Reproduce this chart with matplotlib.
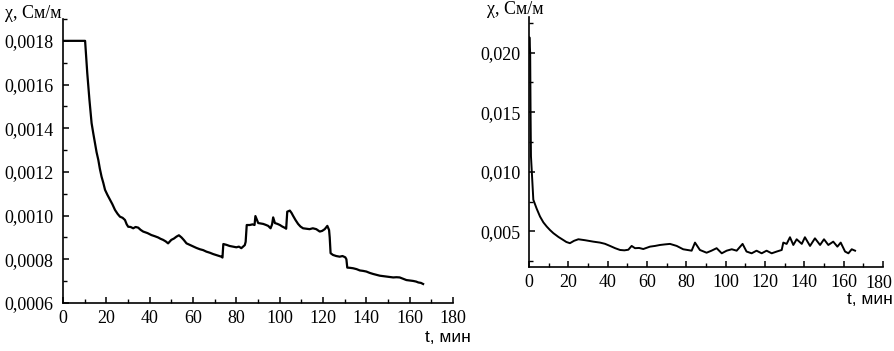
import matplotlib
matplotlib.use("Agg")
import matplotlib.pyplot as plt
from matplotlib.ticker import FuncFormatter, MultipleLocator

# ---- data: left panel ----
t_left = [0, 5, 10.2, 11.2, 12.2, 13.2, 14.0, 14.8, 15.5, 16.3, 17.0, 17.8, 18.6, 19.4,
          20.5, 21.7, 22.8, 24.0, 25.2, 26.3, 27.5, 28.6, 29.4, 30.1, 31.2, 32.4, 33.5,
          34.7, 35.8, 37.0, 39.0, 40.8, 42.3, 43.9, 45.0, 46.2, 47.4, 48.5, 50.0, 51.2,
          52.4, 53.5, 54.7, 55.8, 57.0, 58.5, 60.1, 61.6, 63.2, 64.7, 66.2, 67.8, 69.3,
          71.2, 73.1, 73.6, 74.0, 75.5, 76.9, 78.4, 80.0, 81.2, 82.3, 83.9, 84.3, 84.8,
          86.2, 87.5, 88.4, 88.8, 90.1, 91.2, 92.4, 93.5, 94.7, 95.8, 96.5, 97.0, 97.8,
          99.0, 100.1, 101.2, 102.4, 103.0, 103.5, 104.7, 105.5, 106.2, 107.3, 108.5,
          109.6, 110.8, 112.3, 113.8, 115.3, 116.9, 118.5, 119.6, 120.8, 122.0, 122.8,
          123.1, 123.5, 124.6, 126.1, 127.7, 129.0, 130.3, 130.8, 131.2, 132.5, 133.9,
          135.5, 137.0, 138.5, 140.0, 141.5, 143.1, 144.6, 146.2, 147.7, 149.3, 150.8,
          152.4, 153.9, 155.4, 157.0, 158.5, 160.0, 161.6, 163.0, 164.0, 165.2, 166.2]
chi_left = [0.00180, 0.00180, 0.00180, 0.001652, 0.001530, 0.001423, 0.001375, 0.001331,
            0.001290, 0.001255, 0.001215, 0.001178, 0.001150, 0.001118, 0.001095, 0.001072,
            0.001052, 0.001026, 0.001008, 0.000995, 0.000990, 0.000980, 0.000960, 0.000949,
            0.000948, 0.000942, 0.000948, 0.000945, 0.000935, 0.000927, 0.000920, 0.000911,
            0.000906, 0.000900, 0.000894, 0.000889, 0.000882, 0.000873, 0.000889, 0.000895,
            0.000904, 0.000910, 0.000900, 0.000888, 0.000873, 0.000866, 0.000858, 0.000852,
            0.000846, 0.000842, 0.000835, 0.000830, 0.000824, 0.000818, 0.000812, 0.000808,
            0.000870, 0.000866, 0.000861, 0.000858, 0.000855, 0.000858, 0.000851, 0.000865,
            0.000880, 0.000957, 0.000957, 0.000960, 0.000957, 0.000998, 0.000966, 0.000964,
            0.000962, 0.000958, 0.000953, 0.000942, 0.000960, 0.000992, 0.000966, 0.000962,
            0.000957, 0.000950, 0.000944, 0.000940, 0.001018, 0.001023, 0.001012, 0.000999,
            0.000980, 0.000962, 0.000950, 0.000942, 0.000940, 0.000938, 0.000942, 0.000938,
            0.000927, 0.000930, 0.000938, 0.000953, 0.000934, 0.000900, 0.000828, 0.000820,
            0.000815, 0.000812, 0.000815, 0.000809, 0.000800, 0.000762, 0.000761, 0.000759,
            0.000755, 0.000749, 0.000747, 0.000744, 0.000738, 0.000733, 0.000729, 0.000725,
            0.000723, 0.000721, 0.000719, 0.000717, 0.000718, 0.000717, 0.000711, 0.000705,
            0.000703, 0.000701, 0.000698, 0.000694, 0.000692, 0.000687]

# ---- data: right panel ----
t_right = [0.0, 0.2, 0.4, 0.6, 0.8, 1.0, 2.2, 3.9, 5.6, 7.3, 9.0, 10.7, 12.4, 15.0, 17.4,
           19.0, 20.8, 22.9, 25.1, 28.5, 32.7, 36.1, 38.6, 41.2, 43.8, 46.3, 48.5, 50.5,
           52.2, 53.9, 56.0, 58.1, 61.5, 64.1, 66.6, 69.2, 71.7, 75.1, 78.4, 82.7, 84.4,
           86.9, 90.3, 92.8, 95.4, 98.0, 100.5, 103.1, 105.6, 108.6, 110.6, 113.2, 115.7,
           118.3, 120.8, 123.4, 126.0, 128.5, 129.3, 131.0, 132.7, 134.4, 136.1, 138.7,
           140.3, 142.9, 145.4, 148.0, 150.0, 152.2, 154.7, 156.8, 158.5, 160.7, 162.4,
           164.1, 165.8]
chi_right = [0.0200, 0.0213, 0.0205, 0.0200, 0.0150, 0.0113, 0.00765, 0.00690, 0.00624,
             0.00575, 0.00540, 0.00510, 0.00484, 0.00452, 0.00427, 0.00410, 0.00400,
             0.00420, 0.00433, 0.00425, 0.00413, 0.00405, 0.00395, 0.00377, 0.00358,
             0.00343, 0.00340, 0.00345, 0.00377, 0.00358, 0.00360, 0.00351, 0.00371,
             0.00377, 0.00385, 0.00390, 0.00394, 0.00377, 0.00349, 0.00337, 0.00405,
             0.00343, 0.00320, 0.00337, 0.00358, 0.00315, 0.00337, 0.00349, 0.00337,
             0.00394, 0.00330, 0.00315, 0.00337, 0.00315, 0.00337, 0.00315, 0.00330,
             0.00343, 0.00405, 0.00394, 0.00450, 0.00385, 0.00433, 0.00394, 0.00450,
             0.00377, 0.00441, 0.00385, 0.00433, 0.00385, 0.00413, 0.00371, 0.00405,
             0.00330, 0.00315, 0.00349, 0.00337]

x_major = [0, 20, 40, 60, 80, 100, 120, 140, 160, 180]
y_left_major = [0.0006, 0.0008, 0.0010, 0.0012, 0.0014, 0.0016, 0.0018]
y_right_major = [0.005, 0.010, 0.015, 0.020]

serif = ["Liberation Serif", "DejaVu Serif"]
sans = ["Liberation Sans", "DejaVu Sans"]

fig = plt.figure(figsize=(8.94, 3.51), dpi=100)
W, H = 894, 351

def px_axes(x0, x1, ytop, ybot):
    return fig.add_axes([x0 / W, 1 - ybot / H, (x1 - x0) / W, (ybot - ytop) / H])

axL = px_axes(63, 453, 19, 303)
axR = px_axes(529, 883, 17, 267)

FS = 13

def style(ax, ymaj, yminor_step, ndec, ypad, hide_last_x=False):
    for s in ("top", "right"):
        ax.spines[s].set_visible(False)
    for s in ("left", "bottom"):
        ax.spines[s].set_linewidth(1.2)
    ax.set_xlim(0, 180)
    ax.set_xticks(x_major)
    if hide_last_x:
        ax.xaxis.set_major_formatter(FuncFormatter(lambda v, p: "" if v >= 179 else f"{v:.0f}"))
    ax.xaxis.set_minor_locator(MultipleLocator(10))
    ax.set_yticks(ymaj)
    ax.yaxis.set_minor_locator(MultipleLocator(yminor_step))
    ax.yaxis.set_major_formatter(FuncFormatter(lambda v, p: f"{v:.{ndec}f}".replace(".", ",")))
    ax.tick_params(which="major", direction="in", length=4, width=1.1, labelsize=FS)
    ax.tick_params(which="minor", direction="in", length=3, width=1.0)
    ax.tick_params(axis="y", pad=ypad)
    ax.tick_params(axis="x", pad=5)
    for lab in ax.get_xticklabels() + ax.get_yticklabels():
        lab.set_family(serif)

axL.plot(t_left, chi_left, color="black", lw=1.6)
axL.set_ylim(0.0006, 0.0019)
style(axL, y_left_major, 0.0001, 4, 7)

axR.plot(t_right, chi_right, color="black", lw=1.4)
axR.set_ylim(0.002, 0.023)
style(axR, y_right_major, 0.0025, 3, 6, hide_last_x=True)
# last x label of right panel, nudged left so it stays inside the figure
axR.annotate("180", xy=(180, 0), xycoords=("data", "axes fraction"),
             xytext=(-3, -5.6), textcoords="offset points", ha="center", va="top",
             family=serif, fontsize=FS)

fig.text(5 / W, 1 - 13 / H, "χ, См/м", family=serif, fontsize=FS, ha="left", va="center")
fig.text(487 / W, 1 - 10 / H, "χ, См/м", family=serif, fontsize=FS, ha="left", va="center")
fig.text(471 / W, 1 - 338 / H, "t, мин", family=sans, fontsize=12.5, ha="right", va="center")
fig.text(893 / W, 1 - 299 / H, "t, мин", family=sans, fontsize=12.5, ha="right", va="center")

fig.savefig("out.png", dpi=100)
